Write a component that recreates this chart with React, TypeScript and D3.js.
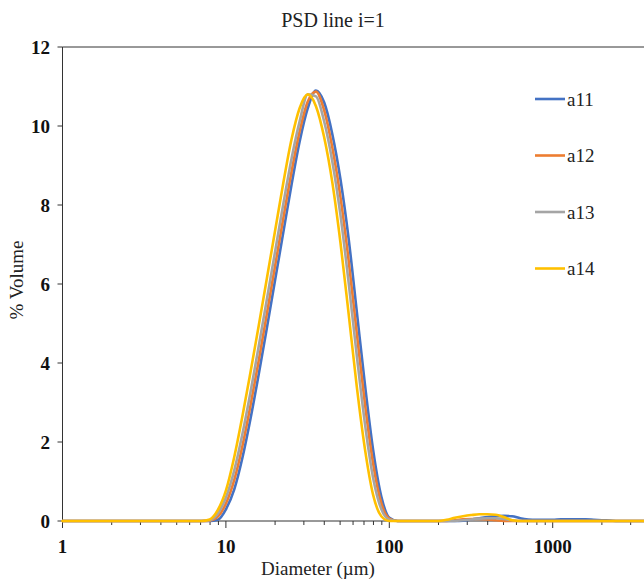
import React from 'react';
import * as d3 from 'd3';

const diameters = [
  1.0, 1.12, 1.26, 1.41, 1.59, 1.78, 2.0, 2.24, 2.52, 2.83,
  3.17, 3.56, 3.99, 4.48, 5.02, 5.64, 6.32, 7.1, 7.96, 8.93,
  10.02, 11.25, 12.62, 14.16, 15.89, 17.83, 20.0, 22.44, 25.18, 28.25,
  31.7, 35.57, 39.91, 44.77, 50.24, 56.37, 63.25, 70.96, 79.62, 89.34,
  100.2, 112.5, 126.2, 141.6, 158.9, 178.3, 200.0, 224.4, 251.8, 282.5,
  317.0, 355.7, 399.1, 447.7, 502.4, 563.7, 632.5, 709.6, 796.2, 893.4,
  1002, 1125, 1262, 1416, 1589, 1783, 2000, 2244, 2518, 2825,
  3170, 3557, 3991,
];

const a11 = [
  0, 0, 0, 0, 0, 0, 0, 0, 0, 0,
  0, 0, 0, 0, 0, 0, 0, 0, 0, 0.03,
  0.3, 0.8, 1.6, 2.6, 3.72, 4.9, 6.1, 7.3, 8.5, 9.6,
  10.45, 10.9, 10.6, 9.8, 8.65, 7.15, 5.3, 3.45, 1.8, 0.62,
  0.08, 0, 0, 0, 0, 0, 0, 0, 0, 0.01,
  0.04, 0.07, 0.1, 0.12, 0.13, 0.12, 0.07, 0.04, 0.03, 0.03,
  0.03, 0.04, 0.04, 0.04, 0.04, 0.03, 0.02, 0.01, 0, 0,
  0, 0, 0,
];

const a12 = [
  0, 0, 0, 0, 0, 0, 0, 0, 0, 0,
  0, 0, 0, 0, 0, 0, 0, 0, 0.01, 0.11,
  0.45, 1.04, 1.9, 2.94, 4.07, 5.26, 6.46, 7.66, 8.83, 9.86,
  10.62, 10.87, 10.4, 9.46, 8.2, 6.6, 4.75, 2.96, 1.45, 0.45,
  0.06, 0, 0, 0, 0, 0, 0, 0, 0.02, 0.04,
  0.05, 0.05, 0.04, 0.02, 0, 0, 0, 0, 0, 0,
  0, 0, 0, 0, 0, 0, 0, 0, 0, 0,
  0, 0, 0,
];

const a13 = [
  0, 0, 0, 0, 0, 0, 0, 0, 0, 0,
  0, 0, 0, 0, 0, 0, 0, 0, 0.02, 0.19,
  0.6, 1.28, 2.2, 3.27, 4.43, 5.62, 6.82, 8.02, 9.16, 10.11,
  10.8, 10.75, 10.12, 9.11, 7.75, 6.04, 4.19, 2.46, 1.09, 0.3,
  0.03, 0, 0, 0, 0, 0, 0, 0, 0, 0.02,
  0.04, 0.06, 0.07, 0.07, 0.05, 0.02, 0, 0, 0, 0,
  0, 0, 0, 0, 0, 0, 0, 0, 0, 0,
  0, 0, 0,
];

const a14 = [
  0, 0, 0, 0, 0, 0, 0, 0, 0, 0,
  0, 0, 0, 0, 0, 0, 0, 0, 0.04, 0.28,
  0.78, 1.62, 2.65, 3.78, 4.95, 6.15, 7.35, 8.55, 9.65, 10.45,
  10.8, 10.5, 9.72, 8.58, 7.05, 5.25, 3.4, 1.82, 0.66, 0.12,
  0, 0, 0, 0, 0, 0, 0, 0.03, 0.08, 0.12,
  0.15, 0.17, 0.17, 0.16, 0.1, 0.02, 0, 0, 0, 0,
  0, 0, 0, 0, 0, 0, 0, 0, 0, 0,
  0, 0, 0,
];

const seriesNames = ['a11', 'a12', 'a13', 'a14'];
const seriesValues = [a11, a12, a13, a14];
const seriesColors = ['#4472C4', '#ED7D31', '#A5A5A5', '#FFC000'];
const yTicks = [0, 2, 4, 6, 8, 10, 12];
const xMajorTicks = [1, 10, 100, 1000];
const title = 'PSD line i=1';
const xTitle = 'Diameter (\u00b5m)';
const yTitle = '% Volume';

const W = 644;
const H = 585;
const FONT = "'Liberation Serif', 'Times New Roman', serif";

export default function App() {
  const x = d3.scaleLog().domain([1, 10000]).range([62.5, 62.5 + 163.4 * 4]);
  const y = d3.scaleLinear().domain([0, 12]).range([521, 47]);
  const left = 62.5;
  const right = W;

  const minorTicks: number[] = [];
  for (let e = 0; e < 4; e++) {
    for (let k = 2; k <= 9; k++) {
      const v = k * Math.pow(10, e);
      if (x(v) < right) minorTicks.push(v);
    }
  }

  const line = d3
    .line<[number, number]>()
    .x((d) => x(d[0]))
    .y((d) => y(d[1]))
    .curve(d3.curveMonotoneX);

  const legendY = [99, 155.5, 212, 268.5];

  return (
    <div style={{ position: 'absolute', left: 0, top: 0 }}>
      <svg width={W} height={H} style={{ display: 'block', background: '#fff' }} fontFamily={FONT}>
        <defs>
          <clipPath id="plotclip">
            <rect x={0} y={0} width={W} height={H} />
          </clipPath>
        </defs>
        <text x={333} y={27} fontSize={20} textAnchor="middle" fill="#222">
          {title}
        </text>
        <line x1={left} x2={right} y1={y(12)} y2={y(12)} stroke="#333" strokeWidth={1} />
        <line x1={left} x2={left} y1={y(12)} y2={y(0)} stroke="#333" strokeWidth={1} />
        {yTicks.map((t) => (
          <g key={'y' + t}>
            <line x1={left - 5} x2={left} y1={y(t)} y2={y(t)} stroke="#333" strokeWidth={1} />
            <text
              x={50}
              y={y(t)}
              dy="0.35em"
              fontSize={19}
              fontWeight="bold"
              textAnchor="end"
              fill="#111"
            >
              {t}
            </text>
          </g>
        ))}
        <line x1={left} x2={right} y1={y(0)} y2={y(0)} stroke="#333" strokeWidth={1} />
        {xMajorTicks.map((t) => (
          <g key={'xm' + t}>
            <line x1={x(t)} x2={x(t)} y1={y(0)} y2={y(0) + 7} stroke="#333" strokeWidth={1} />
            <text
              x={x(t)}
              y={553}
              fontSize={19}
              fontWeight="bold"
              textAnchor="middle"
              fill="#111"
            >
              {t}
            </text>
          </g>
        ))}
        {minorTicks.map((t) => (
          <line
            key={'xn' + t}
            x1={x(t)}
            x2={x(t)}
            y1={y(0)}
            y2={y(0) + 4}
            stroke="#333"
            strokeWidth={1}
          />
        ))}
        <text x={318} y={575} fontSize={19} textAnchor="middle" fill="#222">
          {xTitle}
        </text>
        <text
          transform={`translate(23, 280) rotate(-90)`}
          fontSize={19}
          textAnchor="middle"
          fill="#222"
        >
          {yTitle}
        </text>
        <g clipPath="url(#plotclip)">
          {seriesValues.map((vals, i) => {
            const pts: [number, number][] = diameters.map((d, j) => [d, vals[j]]);
            return (
              <path
                key={seriesNames[i]}
                d={line(pts) || ''}
                fill="none"
                stroke={seriesColors[i]}
                strokeWidth={2.6}
                strokeLinejoin="round"
                strokeLinecap="round"
              />
            );
          })}
        </g>
        {seriesNames.map((n, i) => (
          <g key={'lg' + n}>
            <line
              x1={535}
              x2={565}
              y1={legendY[i]}
              y2={legendY[i]}
              stroke={seriesColors[i]}
              strokeWidth={2.6}
            />
            <text x={567} y={legendY[i]} dy="0.35em" fontSize={19} fill="#222">
              {n}
            </text>
          </g>
        ))}
      </svg>
    </div>
  );
}
